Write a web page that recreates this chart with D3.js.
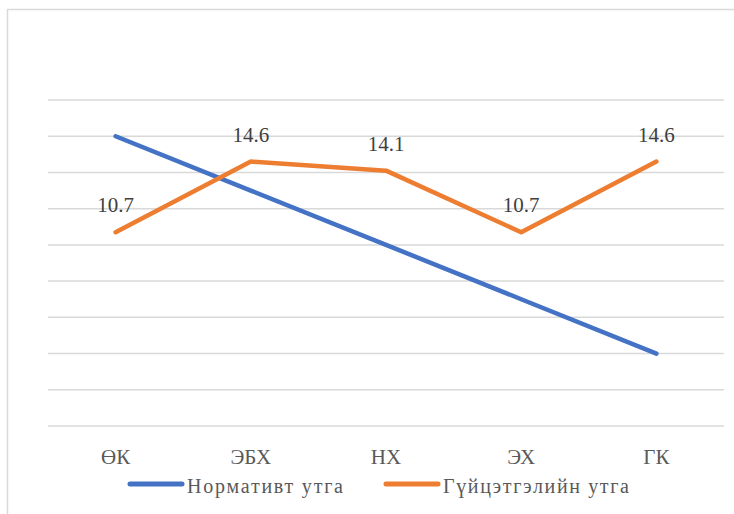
<!DOCTYPE html>
<html><head><meta charset="utf-8">
<script src="https://cdn.jsdelivr.net/npm/d3@7"></script>
<style>body{margin:0;background:#fff;} svg{display:block;}
svg text{font-family:'Liberation Serif','Times New Roman',Tinos,'Noto Serif CJK SC',serif;}</style>
</head><body>
<script>
const categories = ["ӨК", "ЭБХ", "НХ", "ЭХ", "ГК"];
const normValues = [16, 13, 10, 7, 4];
const actualValues = [10.7, 14.6, 14.1, 10.7, 14.6];
const seriesNames = ["Нормативт утга", "Гүйцэтгэлийн утга"];
const yTicks = [0, 2, 4, 6, 8, 10, 12, 14, 16, 18];

const W = 734, H = 514;
const svg = d3.select("body").append("svg").attr("width", W).attr("height", H);
svg.append("rect").attr("x", 7.5).attr("y", 9.5).attr("width", W + 10).attr("height", H + 10)
  .attr("fill", "#fff").attr("stroke", "#d9d9d9").attr("stroke-width", 1.5);

const x = d3.scaleBand().domain(categories).range([48, 724]);
const y = d3.scaleLinear().domain([0, 18]).range([426, 100]);
const cx = d => x(d) + x.bandwidth() / 2;

svg.append("g").selectAll("line").data(yTicks).join("line")
  .attr("x1", 48).attr("x2", 724)
  .attr("y1", d => y(d)).attr("y2", d => y(d))
  .attr("stroke", "#d9d9d9").attr("stroke-width", 1.5);

const line = d3.line().x((d, i) => cx(categories[i])).y(d => y(d));
svg.append("path").datum(normValues).attr("d", line).attr("fill", "none")
  .attr("stroke", "#4472C4").attr("stroke-width", 4.5).attr("stroke-linecap", "round").attr("stroke-linejoin", "round");
svg.append("path").datum(actualValues).attr("d", line).attr("fill", "none")
  .attr("stroke", "#ED7D31").attr("stroke-width", 4.5).attr("stroke-linecap", "round").attr("stroke-linejoin", "round");

const legend = [
  {name: seriesNames[0], color: "#4472C4", x1: 130, tx: 187, tw: 156},
  {name: seriesNames[1], color: "#ED7D31", x1: 386, tx: 443, tw: 186}
];
svg.append("g").selectAll("line").data(legend).join("line")
  .attr("x1", d => d.x1).attr("x2", d => d.x1 + 52).attr("y1", 484).attr("y2", 484)
  .attr("stroke", d => d.color).attr("stroke-width", 5).attr("stroke-linecap", "round");

function drawText() {
  svg.append("g").selectAll("text").data(actualValues).join("text")
    .attr("x", (d, i) => cx(categories[i])).attr("y", d => y(d) - 20).attr("text-anchor", "middle")
    .attr("font-size", 21).attr("fill", "#404040")
    .text(d => d.toFixed(1));

  svg.append("g").selectAll("text").data(legend).join("text")
    .attr("x", d => d.tx).attr("y", 493)
    .attr("font-size", 20).attr("fill", "#595959")
    .attr("textLength", d => d.tw).attr("lengthAdjust", "spacing")
    .text(d => d.name);

  svg.append("g").selectAll("text").data(categories).join("text")
    .attr("x", d => cx(d)).attr("y", 464).attr("text-anchor", "middle")
    .attr("font-size", 21).attr("fill", "#595959")
    .text(d => d);
}
drawText();
</script>
</body></html>
